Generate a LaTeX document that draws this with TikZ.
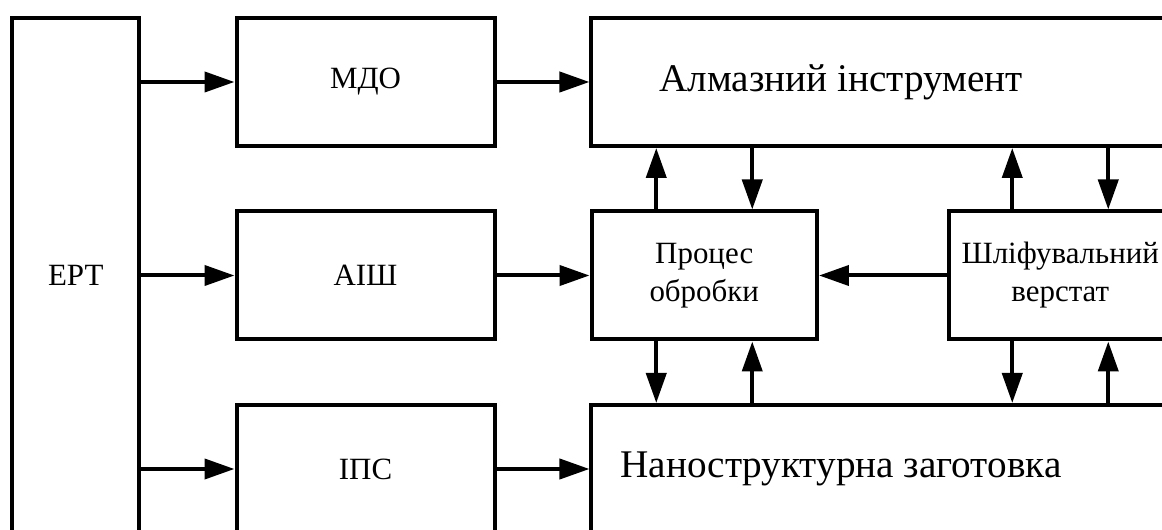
\documentclass[tikz,border=0pt]{standalone}
\usepackage{fontspec}
\setmainfont{Liberation Serif}
\usetikzlibrary{arrows.meta,positioning,calc}

\begin{document}
\begin{tikzpicture}[
  x=0.75pt,y=-0.75pt,
  font=\fontsize{23.2pt}{28.5pt}\selectfont,
  block/.style={draw,line width=3pt,align=center,inner sep=0pt},
  small/.style={block,minimum width=193.5pt,minimum height=96pt},
  wide/.style={block,minimum width=435.4pt,minimum height=96pt},
  widetext/.style={font=\fontsize{29.4pt}{34pt}\selectfont,xshift=-30.6pt},
  pipe/.style={line width=3pt,-{Triangle[length=22.5pt,width=15pt]}}
]
\path[use as bounding box,clip] (0,0) rectangle (1162,530);
% blocks
\node[block,minimum width=95.6pt,minimum height=386.25pt] (ert) at (75.75,275.5) {ЕРТ};
\node[small] (mdo) at (365.5,82) {МДО};
\node[small] (aish) at (365.5,275.5) {АІШ};
\node[small] (ips) at (365.5,469) {ІПС};
\node[wide,label={[widetext]center:Алмазний інструмент}] (almaz) at (881.75,82) {};
\node[block,minimum width=169.1pt,minimum height=96pt] (proc) at (704.25,275.5) {Процес\\обробки};
\node[block,minimum width=167.6pt,minimum height=96pt] (shlif) at (1060.25,275.5) {Шліфувальний\\верстат};
\node[wide,label={[widetext]center:Наноструктурна заготовка}] (nano) at (881.75,469) {};
% horizontal links
\foreach \b in {mdo,aish,ips}
  \draw[pipe] (ert.east |- \b.west) -- (\b.west);
\draw[pipe] (mdo.east) -- (mdo.east -| almaz.west);
\draw[pipe] (aish.east) -- (proc.west);
\draw[pipe] (shlif.west) -- (proc.east);
\draw[pipe] (ips.east) -- (ips.east -| nano.west);
% vertical links
\foreach \b in {proc,shlif} {
  \draw[pipe] ([xshift=-36pt]\b.north) -- ([xshift=-36pt]\b.north |- almaz.south);
  \draw[pipe] ([xshift=36pt]\b.north |- almaz.south) -- ([xshift=36pt]\b.north);
  \draw[pipe] ([xshift=-36pt]\b.south) -- ([xshift=-36pt]\b.south |- nano.north);
  \draw[pipe] ([xshift=36pt]\b.south |- nano.north) -- ([xshift=36pt]\b.south);
}
\end{tikzpicture}
\end{document}
